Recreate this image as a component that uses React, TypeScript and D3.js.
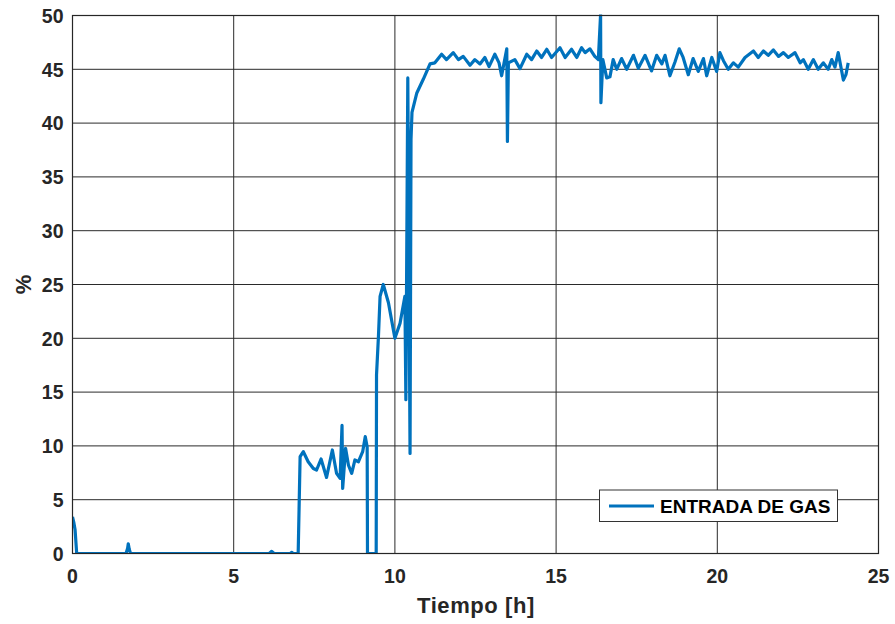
import React from "react";
import * as d3 from "d3";

const timeH: number[] = [
  0, 0.04, 0.08, 0.13, 1.0, 1.66, 1.71, 1.73, 1.76, 1.8, 6.1, 6.18, 6.25, 6.75, 6.8, 6.85, 7.0,
  7.06, 7.16, 7.31, 7.47, 7.57, 7.71, 7.88, 8.06, 8.19, 8.3, 8.36, 8.38, 8.47, 8.56, 8.66, 8.76, 8.87, 9.0, 9.08, 9.14,
  9.15, 9.42, 9.43, 9.49, 9.54, 9.64, 9.8, 10.0, 10.16, 10.31, 10.34, 10.4, 10.47, 10.5, 10.53,
  10.68, 10.88, 11.09, 11.24, 11.45, 11.6, 11.81, 11.97, 12.12, 12.33, 12.48, 12.64, 12.79, 12.92, 13.1, 13.23, 13.31,
  13.47, 13.49, 13.52, 13.72, 13.88, 14.09, 14.24, 14.4, 14.55, 14.71, 14.86, 15.12, 15.28, 15.48, 15.64, 15.79, 15.9,
  16.05, 16.2, 16.31, 16.38, 16.39, 16.45, 16.57, 16.67, 16.77, 16.88, 17.03, 17.19, 17.4, 17.55, 17.76, 17.96, 18.12,
  18.28, 18.38, 18.53, 18.69, 18.82, 18.94, 19.1, 19.25, 19.41, 19.57, 19.67, 19.83, 19.98, 20.08, 20.19, 20.34, 20.5,
  20.65, 20.86, 21.12, 21.27, 21.43, 21.58, 21.74, 21.9, 22.05, 22.2, 22.41, 22.57, 22.67, 22.82, 22.98, 23.13, 23.29,
  23.44, 23.55, 23.65, 23.75, 23.91, 23.99, 24.06,
];

const gasPct: number[] = [
  3.4, 2.9, 2.2, 0, 0, 0, 0.5, 0.9, 0.4, 0, 0, 0.2, 0, 0, 0.1, 0, 0,
  9.0, 9.46, 8.53, 7.9, 7.76, 8.78, 7.07, 9.62, 7.45, 6.98, 11.9, 6.05, 9.78, 8.2, 7.45, 8.69, 8.53, 9.46, 10.86, 9.9,
  0, 0, 16.6, 20.2, 23.9, 25.0, 23.3, 20.0, 21.4, 23.9, 14.3, 44.2, 9.3, 38.5, 41.0,
  42.8, 44.07, 45.5, 45.6, 46.4, 45.9, 46.55, 45.9, 46.2, 45.37, 45.9, 45.5, 46.1, 45.25, 46.4, 45.6, 44.4,
  46.9, 38.3, 45.6, 45.9, 45.06, 46.4, 45.9, 46.7, 46.1, 46.86, 46.1, 47.0, 46.1, 46.86, 46.1, 47.0, 46.55,
  46.9, 46.2, 45.9, 50.1, 41.9, 45.9, 44.2, 44.3, 45.9, 45.0, 46.0, 45.0, 46.3, 45.1, 46.3, 44.85, 46.3,
  45.5, 46.3, 44.4, 45.7, 46.9, 46.1, 44.5, 46.0, 44.8, 46.0, 44.4, 46.1, 44.8, 46.55, 45.8, 45.0, 45.6,
  45.2, 46.1, 46.7, 46.1, 46.7, 46.3, 46.8, 46.2, 46.55, 46.1, 46.55, 45.6, 45.9, 45.0, 45.9, 45.0, 45.6,
  45.0, 45.9, 45.2, 46.55, 44.0, 44.5, 45.6,
];

const xTicks: number[] = [0, 5, 10, 15, 20, 25];
const yTicks: number[] = [0, 5, 10, 15, 20, 25, 30, 35, 40, 45, 50];
const seriesName = "ENTRADA DE GAS";
const xLabel = "Tiempo [h]";
const yLabel = "%";

export default function App() {
  const W = 895, H = 624;
  const L = 72.5, R = 878.5, T = 15.5, B = 553.5;
  const x = d3.scaleLinear().domain([0, 25]).range([L, R]);
  const y = d3.scaleLinear().domain([0, 50]).range([B, T]);
  const pts: [number, number][] = timeH.map((t, i) => [t, gasPct[i]]);
  const line = d3.line<[number, number]>().x(d => x(d[0])).y(d => y(d[1]));
  const font = "'Liberation Sans', Arial, Helvetica, sans-serif";
  const txt = "#262626";
  return (
    <svg width={W} height={H} style={{ position: "absolute", left: 0, top: 0, background: "#fff" }}>
      <rect x={0} y={0} width={W} height={H} fill="#fff" />
      <defs>
        <clipPath id="pc"><rect x={L} y={T - 1} width={R - L} height={B - T + 1} /></clipPath>
      </defs>
      {xTicks.map(t => (
        <line key={"gx" + t} x1={x(t)} x2={x(t)} y1={T} y2={B} stroke="#2a2a2a" strokeWidth={1} />
      ))}
      {yTicks.map(t => (
        <line key={"gy" + t} x1={L} x2={R} y1={y(t)} y2={y(t)} stroke="#2a2a2a" strokeWidth={1} />
      ))}
      <path d={line(pts) || ""} fill="none" stroke="#0072BD" strokeWidth={3.2} strokeLinejoin="round" clipPath="url(#pc)" />
      <rect x={L} y={T} width={R - L} height={B - T} fill="none" stroke="#262626" strokeWidth={1.2} />
      {xTicks.map(t => (
        <text key={"tx" + t} x={x(t)} y={583} textAnchor="middle" fontFamily={font} fontWeight="bold" fontSize={19.5} fill={txt}>{t}</text>
      ))}
      {yTicks.map(t => (
        <text key={"ty" + t} x={63.5} y={y(t) + 7.2} textAnchor="end" fontFamily={font} fontWeight="bold" fontSize={19.5} fill={txt}>{t}</text>
      ))}
      <text x={476} y={613} textAnchor="middle" fontFamily={font} fontWeight="bold" fontSize={22} letterSpacing={0.6} fill={txt}>{xLabel}</text>
      <text transform={`translate(30.5,${(T + B) / 2}) rotate(-90)`} textAnchor="middle" fontFamily={font} fontWeight="bold" fontSize={22} fill={txt}>{yLabel}</text>
      <g>
        <rect x={599.5} y={490} width={238} height={31.5} fill="#fff" stroke="#333" strokeWidth={1} />
        <line x1={609} x2={654} y1={506} y2={506} stroke="#0072BD" strokeWidth={3} />
        <text x={660} y={513} fontFamily={font} fontWeight="bold" fontSize={19} fill="#000">{seriesName}</text>
      </g>
    </svg>
  );
}
